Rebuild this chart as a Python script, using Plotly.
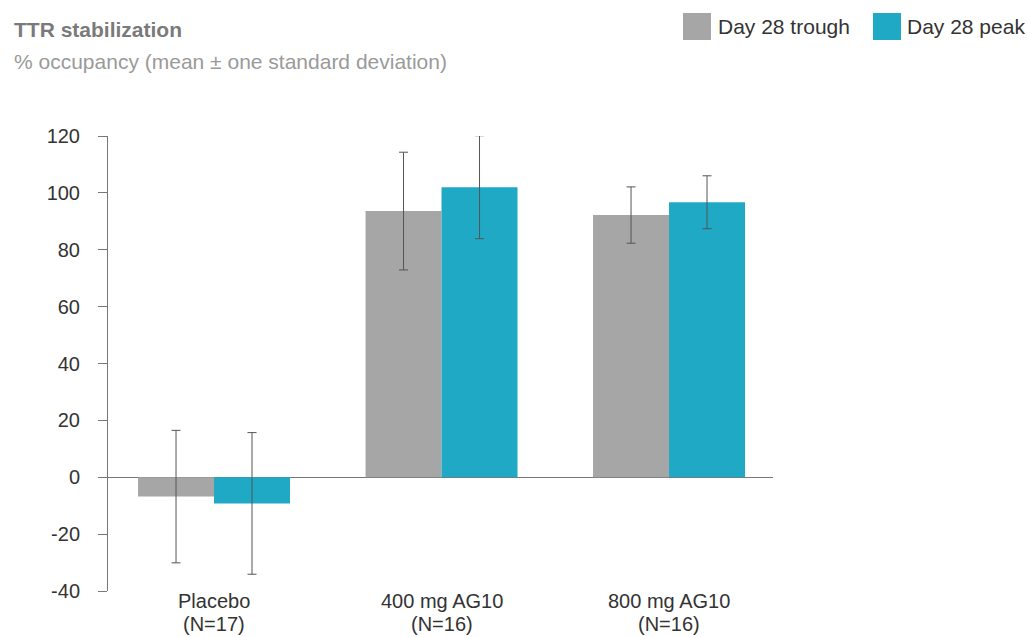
import plotly.graph_objects as go

groups = ["Placebo", "400 mg AG10", "800 mg AG10"]
group_n = ["(N=17)", "(N=16)", "(N=16)"]
trough_mean = [-6.8, 93.6, 92.2]
trough_sd = [23.3, 20.7, 9.9]
peak_mean = [-9.2, 102.0, 96.7]
peak_sd = [24.9, 18.1, 9.3]
series_names = ["Day 28 trough", "Day 28 peak"]
colors = ["#A6A6A6", "#1FA9C5"]
yticks = [-40, -20, 0, 20, 40, 60, 80, 100, 120]
ytick_labels = ["-40", "-20", "0", "20", "40", "60", "80", "100", "120"]

FONT = "Liberation Sans, Arial, Helvetica, sans-serif"
err_color = "#555555"

fig = go.Figure()
for name, mean, sd, col in [(series_names[0], trough_mean, trough_sd, colors[0]),
                            (series_names[1], peak_mean, peak_sd, colors[1])]:
    fig.add_trace(go.Bar(
        x=groups, y=mean, name=name, marker=dict(color=col, line=dict(width=0)),
        error_y=dict(type="data", array=sd, visible=True, color=err_color, thickness=1, width=4.5),
        showlegend=False,
    ))

fig.update_layout(
    width=1027, height=637,
    margin=dict(l=108, r=254, t=136, b=46),
    paper_bgcolor="white", plot_bgcolor="white",
    barmode="group", bargap=0.332, bargroupgap=0,
    font=dict(family=FONT, size=20, color="#333333"),
    xaxis=dict(showline=False, ticks="", showgrid=False, zeroline=False, automargin=False,
               showticklabels=False, range=[-0.466, 2.457]),
    yaxis=dict(range=[-40, 120], tickvals=yticks, ticktext=ytick_labels, showgrid=False,
               automargin=False,
               showline=True, linecolor="#777777", linewidth=1,
               ticks="outside", ticklen=9, tickcolor="#777777",
               zeroline=True, zerolinecolor="#777777", zerolinewidth=1,
               ticklabelstandoff=14, tickfont=dict(size=20, color="#333333")),
)

pw, ph = 665, 455
def py2paper(py):
    return (591 - py) / ph
def px2paper(px, py):
    return (px - 108) / pw, py2paper(py)

# Category labels (two lines each)
for g, n in zip(groups, group_n):
    fig.add_annotation(text=g, xref="x", yref="paper", x=g, y=py2paper(601),
                       xanchor="center", yanchor="middle", showarrow=False,
                       font=dict(size=20, color="#333333", family=FONT))
    fig.add_annotation(text=n, xref="x", yref="paper", x=g, y=py2paper(623.5),
                       xanchor="center", yanchor="middle", showarrow=False,
                       font=dict(size=20, color="#333333", family=FONT))

# Title / subtitle
fig.add_annotation(text="<b>TTR stabilization</b>", xref="paper", yref="paper",
                   x=-0.1444, y=1.235, xanchor="left", yanchor="middle", showarrow=False,
                   font=dict(size=21, color="#7a7a7a", family=FONT))
fig.add_annotation(text="% occupancy (mean \u00b1 one standard deviation)", xref="paper", yref="paper",
                   x=-0.1444, y=1.163, xanchor="left", yanchor="middle", showarrow=False,
                   font=dict(size=21, color="#9a9a9a", family=FONT))

# Legend (custom squares + labels)
leg = [(683, 718, series_names[0], colors[0]), (873, 907, series_names[1], colors[1])]
for sx, tx, name, col in leg:
    x0, y0 = px2paper(sx, 40)
    x1, y1 = px2paper(sx + 28, 13)
    fig.add_shape(type="rect", xref="paper", yref="paper", x0=x0, y0=y0, x1=x1, y1=y1,
                  fillcolor=col, line=dict(width=0))
    tx_p, ty_p = px2paper(tx - 2, 26.5)
    fig.add_annotation(text=name, xref="paper", yref="paper", x=tx_p, y=ty_p,
                       xanchor="left", yanchor="middle", showarrow=False,
                       font=dict(size=21, color="#333333", family=FONT))

fig.write_html("out.html")
